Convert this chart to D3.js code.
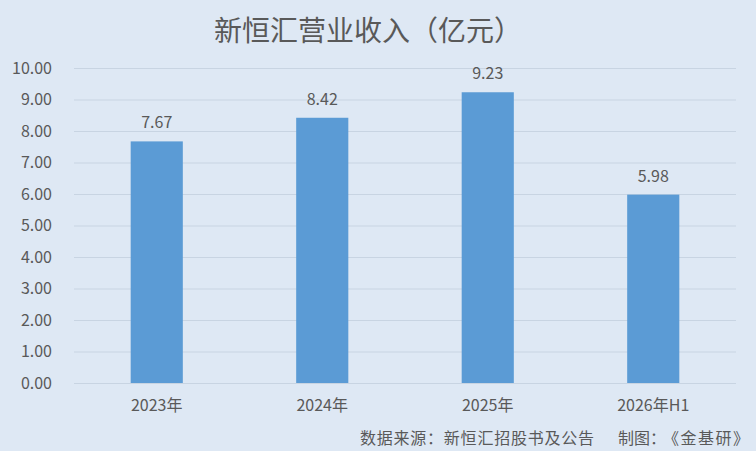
<!DOCTYPE html>
<html><head><meta charset="utf-8">
<script src="https://cdn.jsdelivr.net/npm/d3@7"></script>
<style>html,body{margin:0;padding:0;background:#dee8f4;}svg{display:block;}</style>
</head><body>
<svg id="c" width="756" height="451"></svg>
<script>
const categories = ["2023年", "2024年", "2025年", "2026年H1"];
const revenue = [7.67, 8.42, 9.23, 5.98];
const yTicks = [0,1,2,3,4,5,6,7,8,9,10];
const titleText = "新恒汇营业收入（亿元）";
const sourceParts = ["数据来源：新恒汇招股书及公告", "制图：", "《金基研》"];

const W = 756, H = 451;
const m = {left: 74, right: 20, top: 68, bottom: 68};
const svg = d3.select("#c");
svg.append("rect").attr("width", W).attr("height", H).attr("fill", "#dee8f4");
const font = "'Microsoft YaHei','Noto Sans CJK SC','Noto Sans',sans-serif";
const txt = "#595959";

const x = d3.scaleBand().domain(categories).range([m.left, W - m.right]).padding(0);
const y = d3.scaleLinear().domain([0, 10]).range([H - m.bottom, m.top]);
const bw = x.bandwidth() * 0.315;

svg.append("text").attr("x", 214).attr("y", 41).attr("text-anchor", "start")
  .attr("font-family", font).attr("font-size", 28).attr("fill", txt).text(titleText);

const yAxis = d3.axisLeft(y).tickValues(yTicks).tickFormat(d3.format(".2f")).tickSize(-(W - m.left - m.right)).tickPadding(22);
const ga = svg.append("g").attr("transform", `translate(${m.left},0)`).call(yAxis);
ga.select(".domain").remove();
ga.selectAll(".tick line").attr("stroke", "#c8d4e2").attr("stroke-width", 1);
ga.selectAll(".tick text").attr("font-family", font).attr("font-size", 16).attr("fill", txt);

const xAxis = d3.axisBottom(x).tickSize(0).tickPadding(17);
const gx = svg.append("g").attr("transform", `translate(0,${H - m.bottom})`).call(xAxis);
gx.select(".domain").remove();
gx.selectAll(".tick text").attr("font-family", font).attr("font-size", 16).attr("fill", txt);

svg.append("g").selectAll("rect").data(revenue).join("rect")
  .attr("x", (d, i) => x(categories[i]) + x.bandwidth() / 2 - bw / 2)
  .attr("width", bw)
  .attr("y", d => y(d))
  .attr("height", d => y(0) - y(d))
  .attr("fill", "#5b9bd5");

svg.append("g").selectAll("text").data(revenue).join("text")
  .attr("x", (d, i) => x(categories[i]) + x.bandwidth() / 2)
  .attr("y", d => y(d) - 13)
  .attr("text-anchor", "middle")
  .attr("font-family", font).attr("font-size", 16).attr("fill", txt)
  .text(d => d.toFixed(2));

const src = svg.append("g").attr("font-family", font).attr("font-size", 16).attr("fill", txt);
src.append("text").attr("x", 360).attr("y", 444).attr("textLength", 234).text(sourceParts[0]);
src.append("text").attr("x", 618).attr("y", 444).text(sourceParts[1]);
src.append("text").attr("x", 663).attr("y", 444).attr("textLength", 86).attr("lengthAdjust", "spacing").text(sourceParts[2]);
</script>
</body></html>
